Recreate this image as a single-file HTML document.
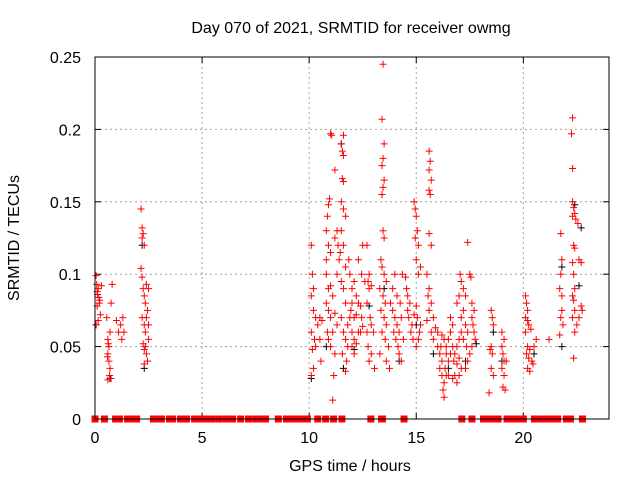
<!DOCTYPE html>
<html><head><meta charset="utf-8"><style>
body{margin:0;background:#fff;}
svg{display:block;font-family:"Liberation Sans",sans-serif;}
</style></head><body>
<svg id="chart" width="640" height="480" viewBox="0 0 640 480" xmlns="http://www.w3.org/2000/svg">
<rect width="640" height="480" fill="#fff"/>
<text x="351" y="33" font-size="16" text-anchor="middle">Day 070 of 2021, SRMTID for receiver owmg</text>
<text transform="translate(19,238) rotate(-90)" font-size="16" text-anchor="middle">SRMTID / TECUs</text>
<text x="350" y="471" font-size="16" text-anchor="middle">GPS time / hours</text>
<g id="grid"></g>
<g id="ticks"></g>
<g id="marks"></g>
<rect x="95" y="57" width="514" height="362" fill="none" stroke="#000" stroke-width="1"/>
</svg>
<script>
const xTicks=[0,5,10,15,20];
const yTicks=[0,0.05,0.1,0.15,0.2,0.25];
const yTickLabels=["0","0.05","0.1","0.15","0.2","0.25"];
const zeroRanges=[[0,0],[0.44,0.44],[0.96,1.14],[1.52,1.94],[2.73,3.1],[3.48,3.62],[3.99,4.27],[4.65,5.44],[5.77,5.77],[6.1,6.1],[6.37,6.42],[6.8,6.8],[7.17,7.17],[7.5,7.5],[7.82,7.82],[7.96,7.96],[8.56,8.56],[8.94,9.03],[9.34,9.34],[9.64,9.92],[10.4,10.4],[10.77,10.77],[11.14,11.14],[11.53,11.53],[12.88,12.88],[13.38,13.42],[14.43,14.43],[17.13,17.13],[17.6,17.6],[18.14,18.19],[18.5,18.5],[18.82,18.82],[19.24,19.24],[19.54,20.0],[20.52,20.52],[20.85,21.45],[21.6,21.6],[22.01,22.2],[22.76,22.76]];
const redPoints=[
[0.05,0.099],[0.08,0.093],[0.1,0.088],[0.12,0.086],[0.15,0.09],[0.18,0.084],[0.2,0.08],[0.22,0.082],[0.1,0.078],[0.25,0.072],[0.15,0.068],[0.3,0.092],[0.05,0.065],
[0.55,0.07],[0.6,0.055],[0.62,0.052],[0.65,0.05],[0.6,0.045],[0.65,0.04],[0.7,0.035],[0.68,0.03],[0.6,0.027],[0.75,0.028],[0.7,0.06],[0.75,0.08],[0.8,0.093],[0.58,0.043],
[1.1,0.06],[1.2,0.065],[1.3,0.07],[1.25,0.055],[1.35,0.06],[1.0,0.068],
[2.15,0.145],[2.2,0.132],[2.25,0.128],[2.2,0.125],[2.3,0.12],[2.15,0.104],[2.2,0.098],[2.25,0.09],[2.3,0.085],[2.4,0.093],[2.5,0.09],[2.35,0.08],[2.45,0.075],[2.4,0.07],[2.3,0.065],[2.35,0.06],[2.5,0.065],[2.25,0.052],[2.3,0.048],[2.4,0.045],[2.35,0.05],[2.45,0.04],[2.3,0.038],[2.5,0.055],[2.2,0.07],
[10.1,0.12],[10.15,0.1],[10.2,0.09],[10.1,0.085],[10.2,0.075],[10.3,0.07],[10.1,0.06],[10.25,0.055],[10.3,0.05],[10.15,0.048],[10.2,0.035],[10.1,0.03],[10.4,0.065],[10.5,0.07],[10.5,0.055],[10.6,0.068],[10.55,0.04],
[10.8,0.13],[10.85,0.14],[10.9,0.148],[10.95,0.152],[10.9,0.12],[10.8,0.11],[11.0,0.115],[10.8,0.1],[10.9,0.09],[11.0,0.092],[10.8,0.08],[11.1,0.085],[10.9,0.075],[11.0,0.07],[10.85,0.06],[11.1,0.06],[10.9,0.055],[11.0,0.05],[11.2,0.045],[11.1,0.013],[11.15,0.03],[11.2,0.073],[11.3,0.065],[11.3,0.1],[11.2,0.125],[11.35,0.12],
[11.0,0.197],[11.05,0.196],[11.2,0.172],[11.3,0.13],[11.4,0.11],[11.45,0.115],
[11.5,0.19],[11.6,0.196],[11.55,0.185],[11.6,0.182],[11.55,0.166],[11.6,0.164],[11.5,0.15],[11.6,0.145],[11.7,0.14],[11.5,0.13],[11.6,0.12],[11.7,0.105],[11.5,0.095],[11.6,0.09],[11.7,0.08],[11.5,0.07],[11.6,0.06],[11.7,0.055],[11.8,0.05],[11.55,0.045],[11.75,0.04],[11.7,0.033],[11.8,0.065],[11.9,0.07],[11.95,0.075],[12.0,0.06],[12.1,0.055],[12.0,0.05],[12.2,0.052],[12.1,0.045],[12.3,0.06],[11.85,0.11],[11.9,0.1],[12.0,0.09],[12.1,0.095],[12.2,0.085],[12.3,0.08],[12.4,0.078],[12.45,0.07],[12.5,0.064],[12.4,0.06],[12.2,0.072],[12.1,0.07],[12.5,0.12],[12.45,0.1],[12.3,0.11],[12.6,0.095],[12.0,0.08],
[12.7,0.12],[12.8,0.1],[12.75,0.095],[12.9,0.092],[12.8,0.09],[12.7,0.08],[12.85,0.07],[12.9,0.065],[12.7,0.06],[12.75,0.05],[12.9,0.045],[13.0,0.06],[12.8,0.04],[13.05,0.035],
[13.45,0.245],[13.4,0.207],[13.5,0.19],[13.45,0.18],[13.4,0.175],[13.5,0.165],[13.45,0.16],[13.4,0.155],[13.45,0.13],[13.5,0.125],[13.35,0.11],[13.4,0.105],[13.5,0.1],[13.6,0.095],[13.3,0.09],[13.45,0.085],[13.55,0.08],[13.35,0.075],[13.5,0.07],[13.6,0.065],[13.4,0.06],[13.55,0.055],[13.7,0.05],[13.3,0.045],[13.6,0.04],[13.75,0.035],[13.8,0.08],[13.9,0.09],[14.0,0.1],[13.9,0.075],[14.0,0.07],[13.95,0.06],[14.1,0.065],[14.05,0.055],[14.15,0.05],[14.2,0.06],[14.3,0.07],[14.25,0.08],[14.1,0.085],[14.2,0.045],[14.3,0.04],[14.4,0.055],[14.35,0.1],
[14.5,0.098],[14.55,0.09],[14.6,0.085],[14.7,0.08],[14.6,0.075],[14.65,0.07],[14.8,0.065],[14.75,0.06],[14.9,0.072],[15.0,0.078],[14.85,0.055],[15.0,0.05],[15.1,0.055],[15.15,0.06],[15.2,0.065],[15.05,0.07],
[14.9,0.15],[14.95,0.145],[15.0,0.14],[15.05,0.13],[14.95,0.125],[15.1,0.12],[15.0,0.11],[15.1,0.1],[15.2,0.105],
[15.6,0.185],[15.65,0.178],[15.6,0.172],[15.7,0.165],[15.6,0.158],[15.65,0.155],[15.6,0.128],[15.7,0.12],[15.5,0.1],[15.6,0.09],[15.55,0.085],[15.7,0.08],[15.6,0.075],[15.8,0.07],[15.5,0.068],[15.7,0.06],[15.9,0.063],[16.0,0.06],[15.8,0.055],[16.0,0.05],[16.1,0.045],[16.2,0.04],[16.1,0.035],[16.2,0.03],[16.3,0.025],[16.25,0.02],[16.3,0.015],[16.4,0.03],[16.5,0.04],[16.6,0.045],[16.4,0.05],[16.5,0.055],[16.6,0.06],[16.7,0.05],[16.8,0.045],[16.75,0.04],[16.9,0.038],[17.0,0.042],[16.9,0.05],[17.0,0.055],[17.1,0.06],[16.7,0.065],[16.6,0.07],[16.2,0.058],[16.3,0.055],[16.4,0.045],[16.15,0.05],[16.35,0.035],[16.5,0.03],[16.7,0.028],[16.8,0.03],[17.1,0.035],[17.0,0.03],[16.9,0.025],
[16.9,0.08],[17.0,0.085],[17.1,0.095],[17.05,0.1],[17.2,0.09],[17.3,0.085],[17.2,0.075],[17.1,0.07],[17.3,0.065],[17.4,0.06],[17.2,0.055],[17.35,0.05],[17.5,0.045],[17.4,0.04],[17.3,0.035],[17.6,0.07],[17.65,0.065],[17.7,0.06],[17.75,0.055],[17.6,0.05],[17.5,0.1],[17.55,0.098],[17.6,0.08],[17.7,0.075],[17.4,0.122],
[18.5,0.075],[18.55,0.07],[18.6,0.065],[18.5,0.05],[18.45,0.048],[18.55,0.045],[18.5,0.035],[18.6,0.03],[18.4,0.018],[19.0,0.06],[19.1,0.055],[19.0,0.05],[19.05,0.045],[19.1,0.04],[19.0,0.035],[19.1,0.03],[19.05,0.022],[19.15,0.02],[19.2,0.04],
[20.1,0.085],[20.15,0.08],[20.2,0.075],[20.1,0.07],[20.2,0.068],[20.25,0.065],[20.1,0.06],[20.2,0.05],[20.3,0.048],[20.15,0.045],[20.25,0.042],[20.4,0.04],[20.2,0.035],[20.3,0.033],[20.45,0.038],[20.5,0.05],[20.6,0.055],[20.35,0.062],[21.2,0.055],
[21.75,0.128],[21.8,0.11],[21.75,0.1],[21.7,0.09],[21.8,0.085],[21.8,0.075],[21.75,0.07],[21.85,0.065],[21.7,0.058],[22.3,0.208],[22.25,0.197],[22.3,0.173],[22.3,0.15],[22.35,0.146],[22.4,0.142],[22.3,0.14],[22.45,0.138],[22.55,0.135],[22.35,0.12],[22.4,0.118],[22.3,0.108],[22.6,0.11],[22.7,0.108],[22.35,0.1],[22.4,0.09],[22.3,0.085],[22.35,0.082],[22.4,0.075],[22.3,0.07],[22.7,0.078],[22.75,0.075],[22.6,0.07],[22.5,0.065],[22.4,0.06],[22.35,0.042]
];
const blackPoints=[[0.05,0.065],[0.7,0.028],[2.2,0.12],[2.3,0.035],[10.1,0.028],[10.8,0.05],[11.6,0.035],[11.5,0.19],[12.1,0.048],[12.8,0.078],[13.5,0.09],[14.2,0.04],[15.0,0.065],[15.8,0.045],[16.5,0.035],[17.3,0.04],[17.8,0.052],[18.6,0.06],[19.0,0.04],[20.5,0.045],[21.8,0.05],[21.8,0.105],[22.6,0.092],[22.7,0.132],[22.4,0.148]];

const X0=95,X1=609,Y0=419,Y1=57,XMAX=24,YMAX=0.25;
function sx(t){return X0+(X1-X0)*t/XMAX;}
function sy(v){return Y0-(Y0-Y1)*v/YMAX;}
const NS="http://www.w3.org/2000/svg";
function mk(tag,attrs,parent){const e=document.createElementNS(NS,tag);for(const k in attrs)e.setAttribute(k,attrs[k]);parent.appendChild(e);return e;}
const grid=document.getElementById('grid'),ticks=document.getElementById('ticks'),marks=document.getElementById('marks');
xTicks.forEach(t=>{
  const x=sx(t);
  if(t>0){const g=mk('line',{x1:x,x2:x,y1:Y1,y2:Y0,stroke:'#a0a0a0','stroke-dasharray':'2,3'},grid);
  
  }
  mk('line',{x1:x,x2:x,y1:Y0,y2:Y0-6,stroke:'#000'},ticks);
  mk('line',{x1:x,x2:x,y1:Y1,y2:Y1+6,stroke:'#000'},ticks);
  const l=mk('text',{x:x,y:443,'font-size':'16','text-anchor':'middle'},ticks);
  l.textContent=String(t);
  
  
});
yTicks.forEach((v,i)=>{
  const y=sy(v);
  if(v>0&&v<YMAX){const g=mk('line',{x1:X0,x2:X1,y1:y,y2:y,stroke:'#a0a0a0','stroke-dasharray':'2,3'},grid);
  
  }
  mk('line',{x1:X0,x2:X0+6,y1:y,y2:y,stroke:'#000'},ticks);
  mk('line',{x1:X1,x2:X1-6,y1:y,y2:y,stroke:'#000'},ticks);
  const l=mk('text',{x:X0-14,y:y+6,'font-size':'16','text-anchor':'end'},ticks);
  l.textContent=yTickLabels[i];
  
  
});
function plus(t,v,col){
  const x=sx(t),y=sy(v);
  const p=mk('path',{d:`M${x-3.5} ${y}H${x+3.5}M${x} ${y-3.5}V${y+3.5}`,stroke:col,'stroke-width':'1',fill:'none'},marks);
  
  
}
blackPoints.forEach(p=>plus(p[0],p[1],'#000'));
redPoints.forEach(p=>plus(p[0],p[1],'#ff0000'));
zeroRanges.forEach(r=>{
  const x=sx(r[0])-3.5,w=sx(r[1])-sx(r[0])+7;
  const z=mk('rect',{x:x,y:Y0-3.5,width:w,height:7,fill:'#ff0000'},marks);
  
  
});
</script>
</body></html>
